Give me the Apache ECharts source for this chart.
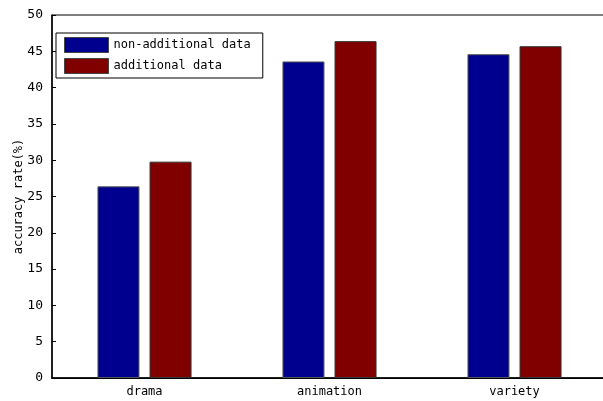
<!DOCTYPE html>
<html>
<head>
<meta charset="utf-8">
<script src="https://cdn.jsdelivr.net/npm/echarts@6/dist/echarts.min.js"></script>
<style>
html,body{margin:0;padding:0;background:#fff;}
#c{width:603px;height:401px;}
</style>
</head>
<body>
<div id="c"></div>
<script>
var categories = ['drama', 'animation', 'variety'];
var nonAdditional = [26.4, 43.6, 44.6];
var additional = [29.8, 46.4, 45.7];
var seriesNames = ['non-additional data', 'additional data'];
var yTicks = {min: 0, max: 50, interval: 5};

var FONT = 'DejaVu Sans Mono';
var chart = echarts.init(document.getElementById('c'), null, {renderer: 'canvas'});
var option = {
  animation: false,
  backgroundColor: '#fff',
  textStyle: {fontFamily: FONT},
  grid: {left: 52, right: -4, top: 15, bottom: 23, show: true, borderColor: '#000', borderWidth: 1, containLabel: false, outerBoundsMode: 'none'},
  legend: {
    data: seriesNames,
    orient: 'vertical',
    left: 56, top: 33,
    icon: 'rect',
    itemWidth: 44, itemHeight: 15, itemGap: 5,
    padding: [4, 12, 4, 8],
    borderColor: '#000', borderWidth: 1,
    backgroundColor: '#fff',
    textStyle: {fontFamily: FONT, fontSize: 12, color: '#000'},
    itemStyle: {borderColor: '#444', borderWidth: 1}
  },
  xAxis: [{
    type: 'category', data: categories, position: 'bottom',
    axisLine: {lineStyle: {color: '#000', width: 1.5}},
    axisTick: {inside: true, alignWithLabel: true, length: 4, lineStyle: {color: '#000'}},
    axisLabel: {fontFamily: FONT, fontSize: 12, color: '#000', margin: 8}
  }, {
    type: 'category', data: categories, position: 'top',
    axisLine: {lineStyle: {color: '#000', width: 1}},
    axisTick: {inside: true, alignWithLabel: true, length: 4, lineStyle: {color: '#000'}},
    axisLabel: {show: false}
  }],
  yAxis: [{
    type: 'value', min: yTicks.min, max: yTicks.max, interval: yTicks.interval, position: 'left',
    name: 'accuracy rate(%)', nameLocation: 'middle', nameGap: 27, nameMoveOverlap: false,
    nameTextStyle: {fontFamily: FONT, fontSize: 12, color: '#000'},
    axisLine: {show: true, lineStyle: {color: '#000', width: 1.5}},
    axisTick: {show: true, inside: true, length: 4, lineStyle: {color: '#000'}},
    splitLine: {show: false},
    axisLabel: {fontFamily: FONT, fontSize: 13, color: '#000', margin: 9}
  }, {
    type: 'value', min: yTicks.min, max: yTicks.max, interval: yTicks.interval, position: 'right',
    axisLine: {show: true, lineStyle: {color: '#000', width: 1}},
    axisTick: {show: true, inside: true, length: 4, lineStyle: {color: '#000'}},
    splitLine: {show: false},
    axisLabel: {show: false}
  }],
  series: [{
    name: seriesNames[0], type: 'bar', data: nonAdditional,
    barWidth: 42, barGap: '24%',
    itemStyle: {color: '#00008f', borderColor: '#555', borderWidth: 1}
  }, {
    name: seriesNames[1], type: 'bar', data: additional,
    barWidth: 42, barGap: '24%',
    itemStyle: {color: '#800000', borderColor: '#333', borderWidth: 1}
  }]
};
chart.setOption(option);
</script>
</body>
</html>
